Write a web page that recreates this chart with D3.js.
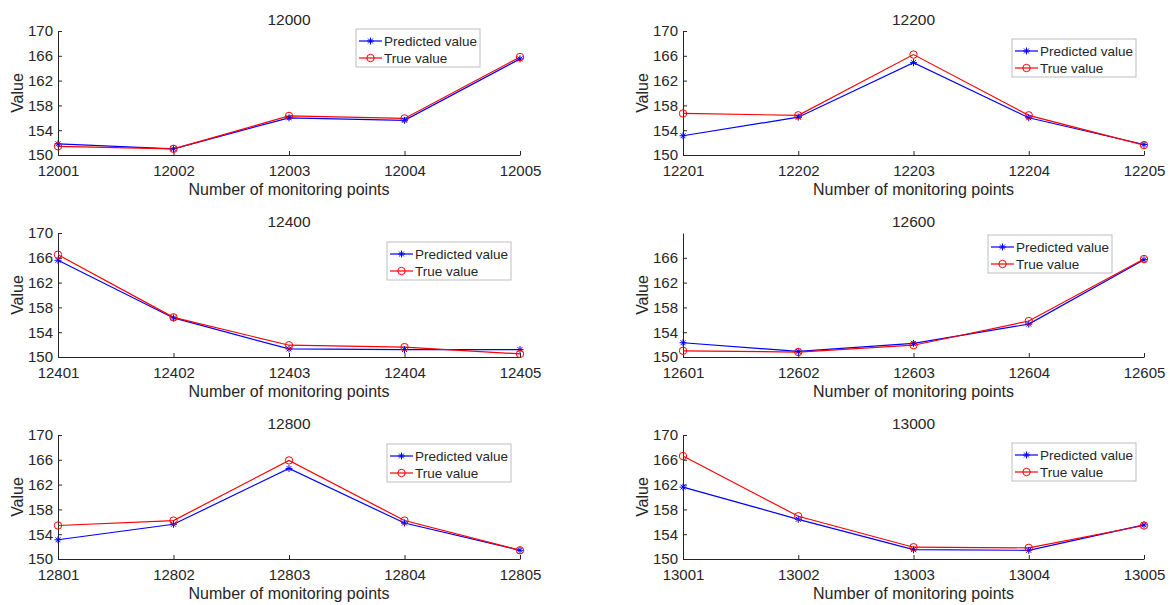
<!DOCTYPE html>
<html>
<head>
<meta charset="utf-8">
<script src="https://cdn.jsdelivr.net/npm/d3@7"></script>
<style>
  body { margin: 0; background: #fff; }
  svg text { font-family: "Liberation Sans", Arial, sans-serif; fill: #262626; }
</style>
</head>
<body>
<div class="canvas"></div>
<script>
const width = 1170, height = 605

// data
const panelTitles = ['12000', '12200', '12400', '12600', '12800', '13000']
const pointLabels = [
    ['12001', '12002', '12003', '12004', '12005'],
    ['12201', '12202', '12203', '12204', '12205'],
    ['12401', '12402', '12403', '12404', '12405'],
    ['12601', '12602', '12603', '12604', '12605'],
    ['12801', '12802', '12803', '12804', '12805'],
    ['13001', '13002', '13003', '13004', '13005']
]
const predicted = [
    [151.8, 151.0, 156.0, 155.6, 165.5],
    [153.1, 156.1, 164.9, 156.0, 151.7],
    [165.6, 156.3, 151.3, 151.2, 151.2],
    [152.3, 150.9, 152.2, 155.3, 165.7],
    [153.1, 155.6, 164.6, 155.8, 151.4],
    [161.6, 156.4, 151.5, 151.4, 155.5]
]
const trueValues = [
    [151.4, 151.0, 156.3, 155.9, 165.8],
    [156.7, 156.4, 166.2, 156.4, 151.6],
    [166.5, 156.4, 151.9, 151.6, 150.5],
    [151.0, 150.8, 151.9, 155.8, 165.8],
    [155.4, 156.2, 165.9, 156.2, 151.4],
    [166.6, 156.9, 151.9, 151.8, 155.4]
]
const yTicks = [150, 154, 158, 162, 166, 170]
const yTicksNoTop = [150, 154, 158, 162, 166]
const seriesNames = ['Predicted value', 'True value']

// layout of the 3x2 grid
const cols = [[58, 520], [683, 1144]]
const rows = [[31, 155], [233, 357], [435, 559]]
const legendPos = [[356, 29], [1012, 39], [387, 242], [988, 235], [387, 444], [1012, 443]]

const svg = d3.select('.canvas').append('svg').attr('width', width).attr('height', height)

const blue = '#0000ff', red = '#ff0000', ink = '#262626'

const asterisk = (x, y, s) =>
    `M${x - s},${y}L${x + s},${y}M${x},${y - s}L${x},${y + s}` +
    `M${x - s * 0.7},${y - s * 0.7}L${x + s * 0.7},${y + s * 0.7}M${x - s * 0.7},${y + s * 0.7}L${x + s * 0.7},${y - s * 0.7}`

panelTitles.forEach((title, i) => {
    const [x0, x1] = cols[i % 2]
    const [y0, y1] = rows[Math.floor(i / 2)]
    const g = svg.append('g')

    const x = d3.scalePoint().domain(pointLabels[i]).range([x0, x1])
    const y = d3.scaleLinear().domain([150, 170]).range([y1, y0])

    const xAxis = d3.axisBottom(x).tickSizeInner(-4).tickSizeOuter(0).tickPadding(10)
    const yAxis = d3.axisLeft(y).tickValues(i === 3 ? yTicksNoTop : yTicks).tickSizeInner(-4).tickSizeOuter(0).tickPadding(5)

    const xg = g.append('g').attr('transform', `translate(0, ${y1})`).call(xAxis)
    const yg = g.append('g').attr('transform', `translate(${x0}, 0)`).call(yAxis)
    ;[xg, yg].forEach(a => {
        a.select('.domain').attr('stroke', ink)
        a.selectAll('.tick line').attr('stroke', ink)
        a.selectAll('text').style('font-size', '15px').attr('fill', ink)
    })

    g.append('text')
        .attr('x', (x0 + x1) / 2).attr('y', y0 - 6)
        .attr('text-anchor', 'middle')
        .style('font-size', '15.5px')
        .text(title)

    g.append('text')
        .attr('x', (x0 + x1) / 2).attr('y', y1 + 40)
        .attr('text-anchor', 'middle')
        .style('font-size', '16px')
        .text('Number of monitoring points')

    g.append('text')
        .attr('transform', `translate(${x0 - 35}, ${(y0 + y1) / 2}) rotate(-90)`)
        .attr('text-anchor', 'middle')
        .style('font-size', '16px')
        .text('Value')

    const line = d3.line().x((d, j) => x(pointLabels[i][j])).y(d => y(d))

    g.append('path').datum(predicted[i])
        .attr('d', line).attr('fill', 'none').attr('stroke', blue).attr('stroke-width', 1.2)
    g.append('path').datum(trueValues[i])
        .attr('d', line).attr('fill', 'none').attr('stroke', red).attr('stroke-width', 1.2)

    g.selectAll('.star').data(predicted[i]).enter()
        .append('path')
        .attr('d', (d, j) => asterisk(x(pointLabels[i][j]), y(d), 3.5))
        .attr('stroke', blue).attr('stroke-width', 1)
    g.selectAll('.ring').data(trueValues[i]).enter()
        .append('circle')
        .attr('cx', (d, j) => x(pointLabels[i][j]))
        .attr('cy', d => y(d))
        .attr('r', 3.7)
        .attr('fill', 'none').attr('stroke', red).attr('stroke-width', 1)

    // legend
    const [lx, ly] = legendPos[i]
    const lg = g.append('g').attr('transform', `translate(${lx}, ${ly})`)
    lg.append('rect').attr('width', 124).attr('height', 38)
        .attr('fill', '#fff').attr('stroke', '#bdbdbd').attr('stroke-width', 1)
    seriesNames.forEach((name, k) => {
        const cy = 12 + k * 17
        const col = k === 0 ? blue : red
        lg.append('line').attr('x1', 3).attr('x2', 26).attr('y1', cy).attr('y2', cy)
            .attr('stroke', col).attr('stroke-width', 1.2)
        if (k === 0) {
            lg.append('path').attr('d', asterisk(14.5, cy, 3.5)).attr('stroke', col)
        } else {
            lg.append('circle').attr('cx', 14.5).attr('cy', cy).attr('r', 3.7)
                .attr('fill', 'none').attr('stroke', col)
        }
        lg.append('text').attr('x', 28).attr('y', cy + 5)
            .style('font-size', '13.5px')
            .text(name)
    })
})
</script>
</body>
</html>
